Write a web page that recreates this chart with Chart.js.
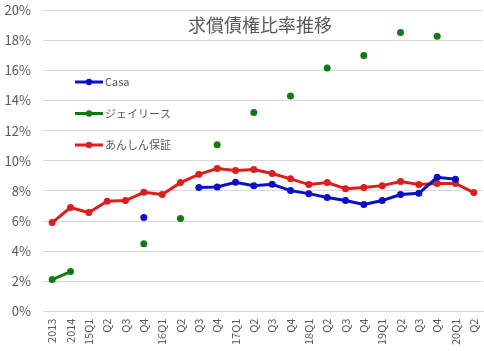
<!DOCTYPE html>
<html>
<head>
<meta charset="utf-8">
<script src="https://cdn.jsdelivr.net/npm/chart.js@4"></script>
<style>
  html, body { margin: 0; padding: 0; background: #fff; }
  #wrap { width: 484px; height: 351px; }
</style>
</head>
<body>
<div id="wrap"><canvas id="rateChart" width="484" height="351"></canvas></div>
<script>
// データ（％）
const labels = ['2013', '2014', '15Q1', 'Q2', 'Q3', 'Q4', '16Q1', 'Q2', 'Q3', 'Q4',
  '17Q1', 'Q2', 'Q3', 'Q4', '18Q1', 'Q2', 'Q3', 'Q4', '19Q1', 'Q2', 'Q3', 'Q4', '20Q1', 'Q2'];
const casa = [null, null, null, null, null, 6.23, null, null, 8.22, 8.26,
  8.57, 8.35, 8.44, 8.02, 7.82, 7.56, 7.36, 7.1, 7.36, 7.76, 7.84, 8.9, 8.77, null];
const jlease = [2.12, 2.65, null, null, null, 4.5, null, 6.17, null, 11.07,
  null, 13.2, null, 14.3, null, 16.15, null, 16.98, null, 18.5, null, 18.26, null, null];
const anshin = [5.9, 6.9, 6.56, 7.31, 7.36, 7.91, 7.76, 8.55, 9.1, 9.48,
  9.35, 9.42, 9.15, 8.8, 8.42, 8.55, 8.15, 8.22, 8.35, 8.62, 8.42, 8.49, 8.49, 7.89];
const seriesNames = ['Casa', 'ジェイリース', 'あんしん保証'];
const seriesColors = ['#0a10c8', '#127a12', '#de1d1d'];

const FONT = '"Noto Sans CJK JP", "Noto Sans", sans-serif';

// タイトルと凡例はプロット内に描く
const overlay = {
  id: 'overlay',
  afterDraw(chart) {
    const ctx = chart.ctx;
    ctx.save();
    ctx.fillStyle = '#595959';
    ctx.font = '18px ' + FONT;
    ctx.textAlign = 'center';
    ctx.textBaseline = 'middle';
    ctx.fillText('求償債権比率推移', 260, 25);

    ctx.font = '11px ' + FONT;
    ctx.textAlign = 'left';
    chart.data.datasets.forEach((ds, i) => {
      const y = 82 + i * 31.5;
      ctx.strokeStyle = ds.borderColor;
      ctx.lineWidth = 3;
      ctx.beginPath();
      ctx.moveTo(75, y);
      ctx.lineTo(103, y);
      ctx.stroke();
      ctx.fillStyle = ds.borderColor;
      ctx.beginPath();
      ctx.arc(89, y, 3.2, 0, Math.PI * 2);
      ctx.fill();
      ctx.fillStyle = '#595959';
      ctx.fillText(ds.label, 105, y);
    });
    ctx.restore();
  }
};

const datasets = [casa, jlease, anshin].map((vals, i) => ({
  label: seriesNames[i],
  data: vals,
  borderColor: seriesColors[i],
  backgroundColor: seriesColors[i],
  borderWidth: 3,
  pointRadius: 3.5,
  pointHoverRadius: 3.5,
  pointBorderWidth: 0,
  tension: 0,
  spanGaps: false
}));

new Chart(document.getElementById('rateChart'), {
  type: 'line',
  data: { labels: labels, datasets: datasets },
  plugins: [overlay],
  options: {
    responsive: false,
    animation: false,
    layout: { autoPadding: false, padding: { top: 0, right: 1, left: 0, bottom: -1 } },
    plugins: {
      legend: { display: false },
      tooltip: { enabled: false }
    },
    scales: {
      x: {
        offset: true,
        grid: { display: false, drawTicks: false },
        border: { color: '#d9d9d9' },
        afterFit(axis) { axis.paddingLeft = 0; axis.paddingRight = 0; },
        ticks: {
          color: '#595959',
          font: { size: 11, family: FONT },
          minRotation: 90,
          maxRotation: 90,
          autoSkip: false,
          padding: 7
        }
      },
      y: {
        min: 0,
        max: 20,
        grid: { color: '#d9d9d9', drawTicks: false },
        border: { display: false },
        afterFit(axis) {
          axis.width = 43;
          axis.paddingTop = 10;
          axis.paddingBottom = 0;
        },
        ticks: {
          stepSize: 2,
          color: '#595959',
          font: { size: 13, family: FONT },
          padding: 12,
          callback: v => v + '%'
        }
      }
    }
  }
});
</script>
</body>
</html>
